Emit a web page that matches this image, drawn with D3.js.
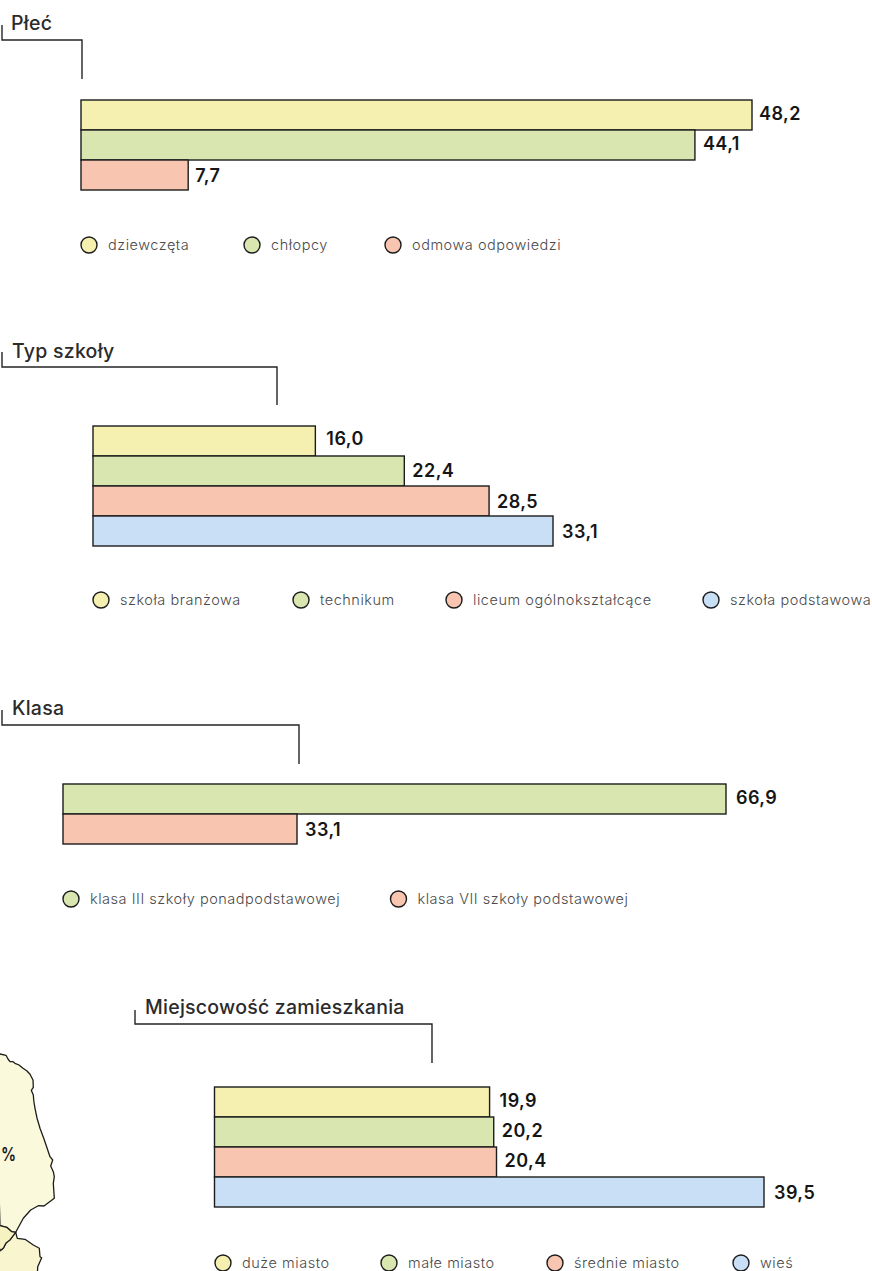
<!DOCTYPE html>
<html lang="pl">
<head>
<meta charset="utf-8">
<title>Struktura próby</title>
<script src="https://cdn.jsdelivr.net/npm/d3@7/dist/d3.min.js"></script>
<style>
  html, body { margin: 0; padding: 0; background: #fff; }
  svg { display: block; }
  .title { font: 500 19.5px Inter, sans-serif; fill: #2b2b2b; letter-spacing: .25px; }
  .value { font: 600 18px Inter, sans-serif; fill: #161616; letter-spacing: .45px; }
  .legend { font: 300 14.5px Inter, sans-serif; fill: #4a4a4a; letter-spacing: .53px; }
  .bracket { fill: none; stroke: #242424; stroke-width: 1.4; }
  .bar, .swatch { stroke: #1c1c1c; stroke-width: 1.4; }
  .region { stroke: #1c1c1c; stroke-width: 1.3; stroke-linejoin: round; }
</style>
</head>
<body>
<div id="chart"></div>
<script>
// Survey sample structure, in percent
const plecLabels = ["dziewczęta", "chłopcy", "odmowa odpowiedzi"];
const plecValues = [48.2, 44.1, 7.7];
const plecColors = ["yellow", "green", "salmon"];

const szkolaLabels = ["szkoła branżowa", "technikum", "liceum ogólnokształcące", "szkoła podstawowa"];
const szkolaValues = [16.0, 22.4, 28.5, 33.1];
const szkolaColors = ["yellow", "green", "salmon", "blue"];

const klasaLabels = ["klasa III szkoły ponadpodstawowej", "klasa VII szkoły podstawowej"];
const klasaValues = [66.9, 33.1];
const klasaColors = ["green", "salmon"];

const miejscLabels = ["duże miasto", "małe miasto", "średnie miasto", "wieś"];
const miejscValues = [19.9, 20.2, 20.4, 39.5];
const miejscColors = ["yellow", "green", "salmon", "blue"];

// Outline of the map fragment in the lower left corner
const mapEast = [[-5,1054],[0,1054],[6,1055.3],[8,1059],[10,1061.7],[13,1061.7],[15,1063.3],[19,1065],[23,1068.3],[27,1071],[30,1074.3],[33,1080],[33.3,1087.3],[31.3,1090.3],[33.3,1095],[33.8,1101],[35,1108.3],[37,1118],[40,1128.3],[44,1139],[48.3,1151.7],[50,1156.7],[52.7,1160],[50.7,1166],[53.3,1171.7],[54.3,1176.7],[53.3,1183.3],[54.3,1198.3],[44,1206],[38.3,1205.7],[30.7,1210],[23.3,1218.3],[15.7,1232.3],[11.7,1231.7],[6.7,1227.3],[0,1225.7],[-5,1225.7]];
const mapWedge = [[-5,1225.7],[0,1225.7],[6.7,1227.3],[11.7,1231.7],[15.7,1232.3],[10,1240],[6,1243],[3.3,1248.3],[0,1250.7],[-5,1252]];
const mapSouth = [[15.7,1232.3],[17.3,1238.3],[25,1239.3],[33.3,1245],[39.3,1248.3],[40,1256.7],[41.7,1257.7],[37.7,1266.7],[37.3,1276],[-5,1276],[-5,1252],[0,1250.7],[3.3,1248.3],[6,1243],[10,1240]];
const mapShares = ["%"];

const palette = d3.scaleOrdinal()
  .domain(["yellow", "green", "salmon", "blue"])
  .range(["#f5f0b0", "#d9e6b0", "#f8c5b0", "#c8dff5"]);

const panels = [
  { title: "Płeć", labels: plecLabels, values: plecValues, colors: plecColors,
    domain: [0, 48.2], range: [81, 752], top: 100,
    bracket: [[2, 25], [2, 40], [82, 40], [82, 79]], titleAt: [11, 30],
    legendY: 245, legendX: [89, 252, 393], legendDx: 19, labelDy: [-2, -2, 0], labelDx: [7, 8, 7] },
  { title: "Typ szkoły", labels: szkolaLabels, values: szkolaValues, colors: szkolaColors,
    domain: [0, 33.1], range: [93, 553], top: 426,
    bracket: [[2, 352], [2, 367], [277, 367], [277, 405]], titleAt: [12, 358],
    legendY: 600, legendX: [101, 301, 454, 711], legendDx: 19, labelDy: [-3, -1, 0, 0], labelDx: [11, 8, 8, 9] },
  { title: "Klasa", labels: klasaLabels, values: klasaValues, colors: klasaColors,
    domain: [0, 33.1, 66.9], range: [63, 297, 726], top: 784,
    bracket: [[2, 710], [2, 725], [299, 725], [299, 764]], titleAt: [12, 715],
    legendY: 899, legendX: [71, 398.5], legendDx: 19, labelDy: [-2, 0], labelDx: [10, 8] },
  { title: "Miejscowość zamieszkania", labels: miejscLabels, values: miejscValues, colors: miejscColors,
    domain: [0, 20.4, 39.5], range: [214.5, 496.5, 764], top: 1087,
    bracket: [[135, 1010], [135, 1024], [432, 1024], [432, 1063]], titleAt: [145, 1014],
    legendY: 1263, legendX: [223, 389, 555, 741], legendDx: 19, labelDy: [-2, -2, -2, 0], labelDx: [10, 8, 8, 10] }
];

const rowHeight = 30;
const svg = d3.select("#chart").append("svg").attr("width", 872).attr("height", 1271);

// Map fragment
const mapPath = d3.geoPath(d3.geoIdentity());
const mapRegions = [
  { ring: mapSouth, fill: "#f9f5cf" },
  { ring: mapEast, fill: "#fbf9dc" },
  { ring: mapWedge, fill: "#f7f2c2" }
];
svg.append("g").selectAll("path").data(mapRegions).join("path")
  .attr("class", "region")
  .attr("fill", d => d.fill)
  .attr("d", d => mapPath({ type: "Polygon", coordinates: [d.ring] }));
svg.append("g").selectAll("text").data(mapShares).join("text")
  .attr("class", "value")
  .attr("x", 1).attr("y", 1161)
  .attr("textLength", 15.5).attr("lengthAdjust", "spacingAndGlyphs")
  .text(d => d);

const line = d3.line();
const formatValue = v => d3.format(".1f")(v).replace(".", ",");

panels.forEach(p => {
  const x = d3.scaleLinear().domain(p.domain).range(p.range);
  const y = d3.scaleBand().domain(p.labels)
    .range([p.top, p.top + rowHeight * p.labels.length]);
  const rows = p.labels.map((label, i) => ({
    label, value: p.values[i], color: p.colors[i], dy: p.labelDy[i], dx: p.labelDx[i], lx: p.legendX[i]
  }));
  const g = svg.append("g");

  g.append("path").attr("class", "bracket").attr("d", line(p.bracket));
  g.append("text").attr("class", "title")
    .attr("x", p.titleAt[0]).attr("y", p.titleAt[1]).text(p.title);

  g.selectAll("rect").data(rows).join("rect")
    .attr("class", "bar")
    .attr("x", x(0))
    .attr("y", d => y(d.label))
    .attr("width", d => x(d.value) - x(0))
    .attr("height", y.bandwidth())
    .attr("fill", d => palette(d.color));

  g.selectAll("text.value").data(rows).join("text")
    .attr("class", "value")
    .attr("x", d => x(d.value) + d.dx)
    .attr("y", d => y(d.label) + y.bandwidth() / 2 + 6.5 + d.dy)
    .text(d => formatValue(d.value));

  g.selectAll("circle").data(rows).join("circle")
    .attr("class", "swatch")
    .attr("cx", d => d.lx).attr("cy", p.legendY).attr("r", 8)
    .attr("fill", d => palette(d.color));

  g.selectAll("text.legend").data(rows).join("text")
    .attr("class", "legend")
    .attr("x", d => d.lx + p.legendDx)
    .attr("y", p.legendY + 5)
    .text(d => d.label);
});
</script>
</body>
</html>
